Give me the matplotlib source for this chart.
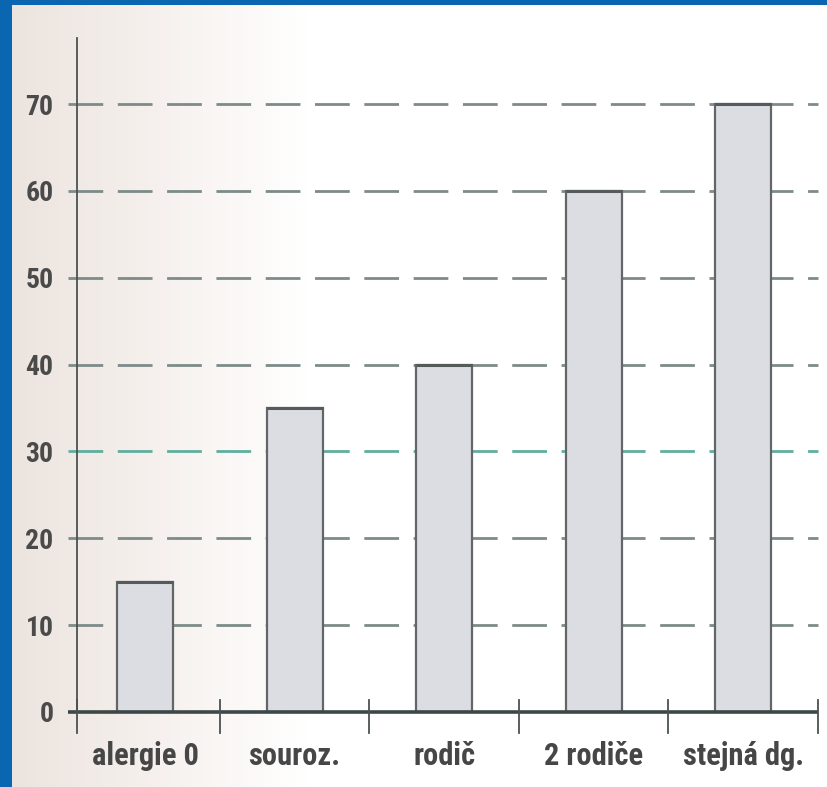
import numpy as np
import matplotlib
matplotlib.use("Agg")
import matplotlib.pyplot as plt
from matplotlib import font_manager
from matplotlib.font_manager import FontProperties
from matplotlib.colors import LinearSegmentedColormap

categories = ["alergie 0", "souroz.", "rodič", "2 rodiče", "stejná dg."]
values = [15, 35, 40, 60, 70]
y_ticks = [0, 10, 20, 30, 40, 50, 60, 70]


def pick_condensed():
    """Return FontProperties of a narrow bold face if one is installed."""
    for fam in ["Liberation Sans Narrow", "Roboto Condensed",
                "Noto Sans Condensed", "Open Sans Condensed",
                "DejaVu Sans Condensed", "Arial Narrow"]:
        try:
            font_manager.findfont(FontProperties(family=fam, weight="bold"),
                                  fallback_to_default=False)
            return FontProperties(family=[fam, "DejaVu Sans"], weight="bold"), True
        except Exception:
            pass
    for fam in ["Noto Sans", "Open Sans", "DejaVu Sans", "Roboto"]:
        fp = FontProperties(family=fam, weight="bold", stretch="condensed")
        try:
            path = font_manager.findfont(fp, fallback_to_default=False)
        except Exception:
            continue
        low = path.lower()
        if "condensed" in low or "narrow" in low:
            return FontProperties(fname=path), True
    return FontProperties(family=["Liberation Sans", "DejaVu Sans"],
                          weight="bold"), False


label_fp, narrow = pick_condensed()
plt.rcParams["lines.scale_dashes"] = False

W, H = 828, 787
fig = plt.figure(figsize=(W / 100, H / 100), dpi=100)

# slide frame (blue) and the warm paper tone fading in from the left
bg = fig.add_axes([0, 0, 1, 1], zorder=-10)
bg.set_axis_off()
bg.set_xlim(0, 1)
bg.set_ylim(0, 1)
bg.add_patch(plt.Rectangle((0, 0), 1, 1, color="#0b66b2", zorder=0))
grad = np.linspace(0, 1, 400)[None, :]
paper = LinearSegmentedColormap.from_list(
    "paper", [(0.0, "#ece4df"), (0.18, "#f6f1ee"), (0.36, "#ffffff"),
              (1.0, "#ffffff")])
bg.imshow(paper(grad), extent=(12 / W, 1, 0, 1 - 5 / H), aspect="auto",
          interpolation="bilinear", zorder=1)
bg.set_xlim(0, 1)
bg.set_ylim(0, 1)

n = len(categories)
x_left = -0.455          # vertical axis sits a little inside the first slot
x_right = n - 0.5
grid_start = -0.515      # guides and baseline poke out left of the axis

ax = fig.add_axes([77 / W, 75 / H, (818 - 77) / W, (749 - 75) / H])
ax.set_facecolor("none")
ax.set_xlim(x_left, x_right)
ax.set_ylim(0, 77.6)

# dashed guide lines, the 30 line printed in teal
for v in y_ticks[1:]:
    col = "#5fae9f" if v == 30 else "#7d8b89"
    ax.plot([grid_start, x_right], [v, v], color=col, lw=2.0,
            dashes=(25, 10.5), clip_on=False, zorder=1)

x = np.arange(n)
bar_w = 0.375
ax.bar(x, values, width=bar_w, color="#dcdde2", edgecolor="#626666",
       linewidth=1.6, zorder=3)
# darker top edge of each bar
ax.hlines(values, x - bar_w / 2, x + bar_w / 2, color="#555a5a", lw=2.2,
          zorder=4)

for s in ["top", "right", "bottom"]:
    ax.spines[s].set_visible(False)
ax.spines["left"].set_color("#4a5251")
ax.spines["left"].set_linewidth(1.3)

# baseline reaching slightly left of the vertical axis
ax.plot([grid_start, x_right], [0, 0], color="#3c4847", lw=2.6,
        clip_on=False, zorder=5, solid_capstyle="butt")

# category boundary ticks crossing the baseline
for b in [x_left] + list(np.arange(0.5, n, 1.0)):
    ax.plot([b, b], [1.4, -2.4], color="#4a5251", lw=1.3, clip_on=False,
            zorder=5)

ysize, xsize = (20, 22) if narrow else (17, 19)

ax.set_yticks(y_ticks)
ax.set_yticklabels([str(v) for v in y_ticks])
ax.tick_params(axis="y", length=0, pad=17, labelcolor="#4a4a4a")
ax.set_xticks(x)
ax.set_xticklabels(categories)
ax.tick_params(axis="x", length=0, pad=21, labelcolor="#464646")
for t in ax.get_yticklabels():
    t.set_fontproperties(label_fp)
    t.set_fontsize(ysize)
for t in ax.get_xticklabels():
    t.set_fontproperties(label_fp)
    t.set_fontsize(xsize)

fig.savefig("out.png", dpi=100)
